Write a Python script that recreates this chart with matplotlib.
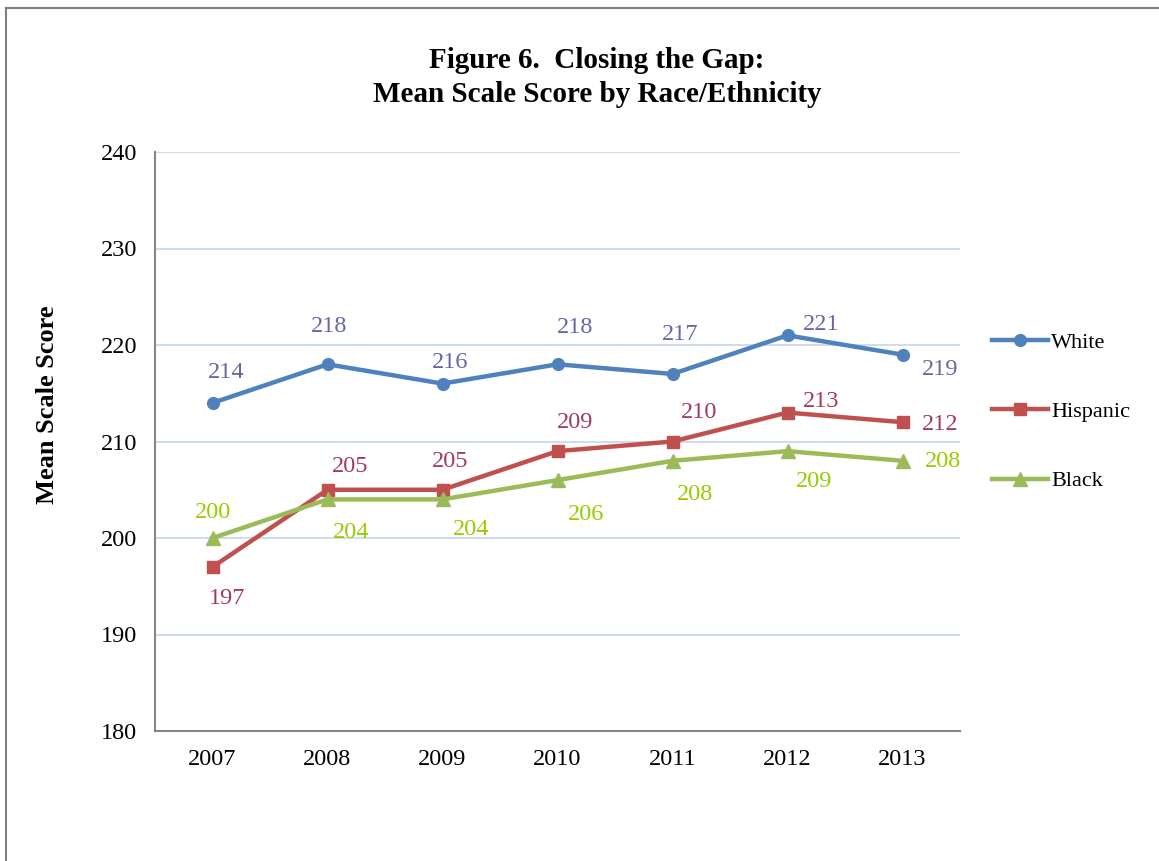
import matplotlib
matplotlib.use("Agg")
import matplotlib.pyplot as plt
from matplotlib.lines import Line2D

years = ['2007', '2008', '2009', '2010', '2011', '2012', '2013']
white = [214, 218, 216, 218, 217, 221, 219]
hispanic = [197, 205, 205, 209, 210, 213, 212]
black = [200, 204, 204, 206, 208, 209, 208]

# label offsets in pixels (dx right, dy down) as placed in the original
white_off = [(14, -30), (2, -38), (8, -21), (18, -37), (8, -39), (34, -11), (38, 15)]
hisp_off = [(15, 32), (23, -23), (8, -28), (18, -29), (27, -29), (34, -11), (38, 2)]
black_off = [(0, -26), (24, 33), (29, 30), (29, 34), (22, 34), (27, 30), (40, 1)]

plt.rcParams['font.family'] = ['Liberation Serif', 'DejaVu Serif']

fig = plt.figure(figsize=(11.59, 8.61), dpi=100)
ax = fig.add_axes([155/1159, 1 - 731/861, 805/1159, 579/861])

series = [
    ('White', white, '#4F81BD', 'o', 8.5, '#6666A6', white_off),
    ('Hispanic', hispanic, '#C0504D', 's', 8, '#A33A5E', hisp_off),
    ('Black', black, '#9BBB59', '^', 9.5, '#99CC00', black_off),
]
x = list(range(len(years)))
for name, vals, color, mk, ms, lab_color, offs in series:
    ax.plot(x, vals, color=color, lw=3.2, marker=mk, markersize=ms, label=name, zorder=3)
    for xi, v, (dx, dy) in zip(x, vals, offs):
        ax.annotate(str(v), (xi, v), xytext=(dx * 0.72, -dy * 0.72), textcoords='offset points',
                    ha='center', va='center', fontsize=17.5, color=lab_color)

ax.set_xlim(-0.5, 6.5)
ax.set_ylim(180, 240)
ax.set_yticks(range(180, 241, 10))
ax.set_xticks(x)
ax.set_xticklabels(years)
ax.tick_params(length=0, labelsize=17.5, colors='black')
ax.tick_params(axis='y', pad=13)
ax.tick_params(axis='x', pad=13)
ax.grid(True, axis='y', color='#C6D6EC', lw=1.2, zorder=0)
for s in ['top', 'right']:
    ax.spines[s].set_visible(False)
for s in ['left', 'bottom']:
    ax.spines[s].set_color('#868686')
    ax.spines[s].set_linewidth(1.5)

ax.legend(loc='upper left', bbox_to_anchor=(992/1159, 1 - 332/861), bbox_transform=fig.transFigure,
          frameon=False, fontsize=16, handlelength=2.5, handletextpad=0.15, labelspacing=2.2,
          borderaxespad=0, borderpad=0)

fig.text(597/1159, 1 - 61/861, 'Figure 6.  Closing the Gap:', ha='center', va='center',
         fontsize=21, fontweight='bold')
fig.text(597/1159, 1 - 95/861, 'Mean Scale Score by Race/Ethnicity', ha='center', va='center',
         fontsize=21, fontweight='bold')
fig.text(48/1159, 1 - 405/861, 'Mean Scale Score', rotation=90, ha='center', va='center',
         fontsize=19, fontweight='bold')

# outer frame (only top and left edges visible)
fig.add_artist(Line2D([6/1159, 6/1159], [0, 1 - 8/861], transform=fig.transFigure, color='#808080', lw=1.5))
fig.add_artist(Line2D([6/1159, 1], [1 - 8/861, 1 - 8/861], transform=fig.transFigure, color='#808080', lw=1.5))

fig.savefig('out.png', dpi=100)
